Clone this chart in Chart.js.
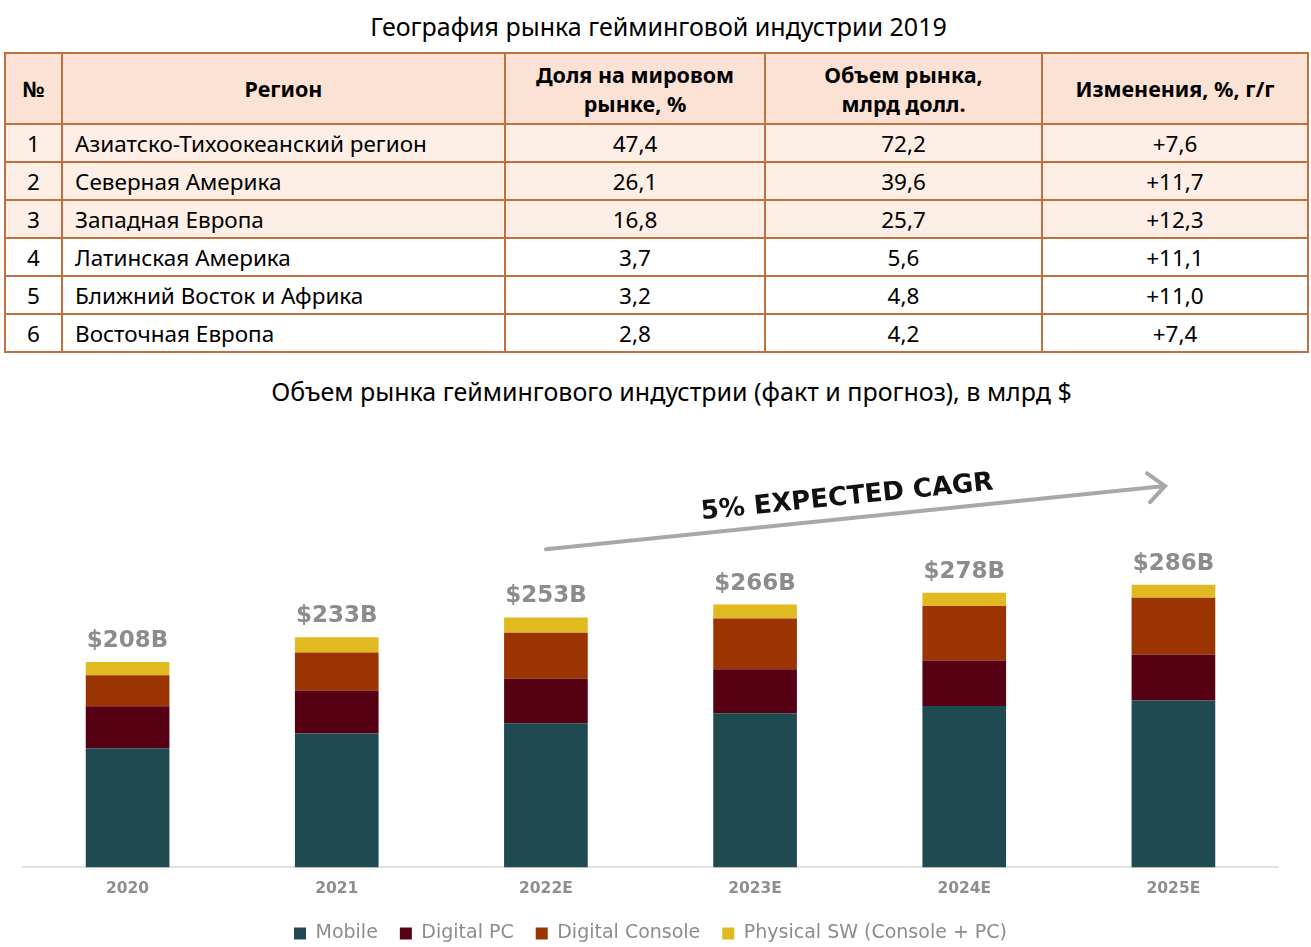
<!DOCTYPE html>
<html>
<head>
<meta charset="utf-8">
<script src="https://cdn.jsdelivr.net/npm/chart.js@4.4.1/dist/chart.umd.min.js"></script>
<style>
  html, body { margin: 0; padding: 0; background: #fff; }
  #page { position: relative; width: 1311px; height: 947px; overflow: hidden; font-family: "Noto Sans", "Open Sans", sans-serif; color: #000; }
  .title { position: absolute; left: 0; width: 1311px; text-align: center; font-size: 25px; line-height: 30px; }
  #t1 { top: 11px; left: 3px; }
  #t2 { top: 376px; left: 16px; }
  table { position: absolute; left: 4px; top: 52px; border-collapse: collapse; table-layout: fixed; width: 1303px; }
  td, th { border: 2px solid #c0703e; padding: 0; }
  th { background: #fbe2d5; font-weight: bold; font-size: 21.5px; line-height: 29px; height: 69px; }
  td { height: 36px; font-size: 22.5px; text-align: center; }
  td.reg { text-align: left; padding-left: 12px; }
  tr.hl td { background: #fdefe6; }
  #wrap { position: absolute; left: 0; top: 410px; width: 1311px; height: 543px; }
</style>
</head>
<body>
<div id="page">
  <div class="title" id="t1">География рынка гейминговой индустрии 2019</div>
  <table id="tbl">
    <colgroup>
      <col style="width:57px"><col style="width:443px"><col style="width:260px"><col style="width:277px"><col style="width:266px">
    </colgroup>
    <thead></thead>
    <tbody></tbody>
  </table>
  <div class="title" id="t2">Объем рынка геймингового индустрии (факт и прогноз), в млрд $</div>
  <div id="wrap"><canvas id="chart"></canvas></div>
</div>
<script>
// ── TABLE DATA ─────────────────────────────────────────────
const tableHeaders = ['№', 'Регион', 'Доля на мировом<br>рынке, %', 'Объем рынка,<br>млрд долл.', 'Изменения, %, г/г'];
const regions  = ['Азиатско-Тихоокеанский регион', 'Северная Америка', 'Западная Европа',
                  'Латинская Америка', 'Ближний Восток и Африка', 'Восточная Европа'];
const shares   = ['47,4', '26,1', '16,8', '3,7', '3,2', '2,8'];
const volumes  = ['72,2', '39,6', '25,7', '5,6', '4,8', '4,2'];
const changes  = ['+7,6', '+11,7', '+12,3', '+11,1', '+11,0', '+7,4'];

// ── CHART DATA ($ bn) ──────────────────────────────────────
const years    = ['2020', '2021', '2022E', '2023E', '2024E', '2025E'];
const totals   = [208, 233, 253, 266, 278, 286];
const mobile   = [120.5, 135.5, 146, 156, 163.5, 169];
const digitalPC      = [42.5, 43.5, 45, 44.5, 46, 46.5];
const digitalConsole = [31.5, 38.5, 46.5, 51.5, 55, 57.5];
const physicalSW     = [13.5, 15.5, 15.5, 14, 13.5, 13];
const cagrText  = '5% EXPECTED CAGR';
// arrow ends as [category index, $ bn]
const cagrFrom  = [2, 322];
const cagrTo    = [4.96, 386];

// build table
const thead = document.querySelector('#tbl thead');
thead.innerHTML = '<tr>' + tableHeaders.map(h => `<th>${h}</th>`).join('') + '</tr>';
const tbody = document.querySelector('#tbl tbody');
regions.forEach((r, i) => {
  const tr = document.createElement('tr');
  if (i < 3) tr.className = 'hl';
  tr.innerHTML = `<td>${i + 1}</td><td class="reg">${r}</td><td>${shares[i]}</td><td>${volumes[i]}</td><td>${changes[i]}</td>`;
  tbody.appendChild(tr);
});

// totals above bars + CAGR arrow
const overlayPlugin = {
  id: 'overlay',
  afterDatasetsDraw(chart) {
    const { ctx, scales: { x, y } } = chart;
    const top = chart.getDatasetMeta(3);
    ctx.save();
    ctx.font = 'bold 23px "DejaVu Sans"';
    ctx.fillStyle = '#8c8c8c';
    ctx.textAlign = 'center';
    ctx.textBaseline = 'alphabetic';
    top.data.forEach((bar, i) => {
      ctx.fillText('$' + totals[i] + 'B', bar.x, bar.y - 15);
    });

    // arrow
    const x1 = x.getPixelForValue(cagrFrom[0]), y1 = y.getPixelForValue(cagrFrom[1]);
    const x2 = x.getPixelForValue(cagrTo[0]),   y2 = y.getPixelForValue(cagrTo[1]);
    const ang = Math.atan2(y2 - y1, x2 - x1);
    ctx.strokeStyle = '#a8a8a8';
    ctx.lineWidth = 4;
    ctx.lineCap = 'round';
    ctx.beginPath();
    ctx.moveTo(x1, y1);
    ctx.lineTo(x2, y2);
    const hl = 22, ha = 0.72;
    ctx.moveTo(x2 - hl * Math.cos(ang - ha), y2 - hl * Math.sin(ang - ha));
    ctx.lineTo(x2, y2);
    ctx.lineTo(x2 - hl * Math.cos(ang + ha), y2 - hl * Math.sin(ang + ha));
    ctx.stroke();

    // label along the arrow
    const mx = x1 + (x2 - x1) * 0.49, my = y1 + (y2 - y1) * 0.49;
    ctx.translate(mx, my);
    ctx.rotate(ang);
    ctx.fillStyle = '#111';
    ctx.font = 'bold 26px "DejaVu Sans"';
    ctx.textBaseline = 'alphabetic';
    ctx.fillText(cagrText, 0, -14);
    ctx.restore();
  }
};

const mkSet = (label, data, color) => ({
  label, data, backgroundColor: color, borderWidth: 0,
  barPercentage: 0.4, categoryPercentage: 1
});

new Chart(document.getElementById('chart'), {
  type: 'bar',
  data: {
    labels: years,
    datasets: [
      mkSet('Mobile', mobile, '#1f4a51'),
      mkSet('Digital PC', digitalPC, '#560014'),
      mkSet('Digital Console', digitalConsole, '#9b3400'),
      mkSet('Physical SW (Console + PC)', physicalSW, '#e1b921')
    ]
  },
  options: {
    responsive: true,
    maintainAspectRatio: false,
    animation: false,
    layout: { padding: { left: 23, right: 33, top: 0, bottom: 0 } },
    plugins: {
      tooltip: { enabled: false },
      legend: {
        position: 'bottom',
        labels: {
          boxWidth: 12, boxHeight: 12, padding: 22,
          color: '#8c8c8c',
          font: { family: '"DejaVu Sans"', size: 19 }
        }
      }
    },
    scales: {
      x: {
        stacked: true,
        grid: { display: false },
        border: { color: '#e2e2e2', width: 2 },
        ticks: { color: '#8e8e8e', padding: 4, font: { family: '"DejaVu Sans"', size: 15.5, weight: 'bold' } }
      },
      y: { stacked: true, display: false, min: 0, max: 463 }
    }
  },
  plugins: [overlayPlugin]
});
</script>
</body>
</html>
